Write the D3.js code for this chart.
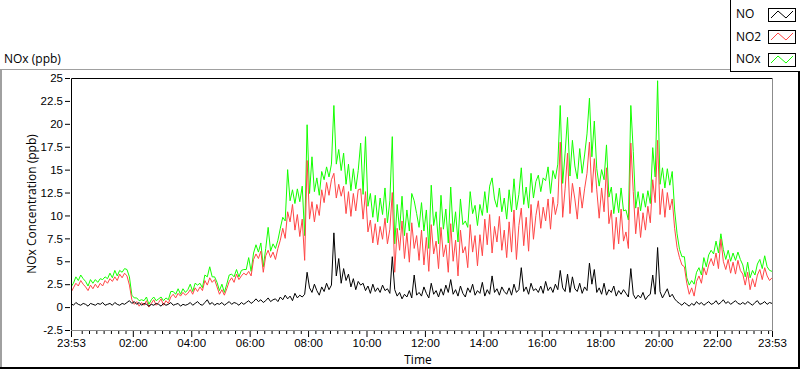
<!DOCTYPE html>
<html>
<head>
<meta charset="utf-8">
<script src="https://cdn.jsdelivr.net/npm/d3@7"></script>
<style>
  body { margin: 0; background: #fff; }
  svg { display: block; font-family: "Open Sans", sans-serif; }
  .tick text { font-size: 11.5px; fill: #000; }
  .tick line { stroke: #000; }
</style>
</head>
<body>
<div id="chart"></div>
<script>
// series, one sample every 5 min from 23:53 to 23:53 next day
const seriesNames = ["NO", "NO2", "NOx"];
const sampleMinutes = 5;

const noValues = [
  0.4,0.2,0.5,0.3,0.2,0.4,0.3,0.1,0.4,0.3,0.2,0.4,
  0.3,0.5,0.2,0.3,0.4,0.2,0.5,0.3,0.2,0.4,0.3,0.5,
  0.7,0.4,0.6,0.3,0.5,0.2,0.4,0.3,0.1,0.3,0.2,0.4,
  0.3,0.1,0.4,0.2,0.3,0.5,0.2,0.3,0.4,0.1,0.3,0.2,
  0.3,0.5,0.2,0.4,0.6,0.3,0.2,0.5,0.8,0.3,0.5,0.2,
  0.4,0.3,0.5,0.2,0.4,0.6,0.3,0.5,0.4,0.2,0.5,0.3,
  0.5,0.7,0.4,0.6,0.9,0.6,0.8,0.5,0.7,1.0,0.6,0.8,
  0.9,0.6,1.1,0.8,1.3,0.9,1.2,0.7,1.5,1.0,1.3,1.1,
  1.4,3.8,2.1,1.6,2.5,1.8,1.3,2.2,1.7,2.6,1.9,2.4,
  8.1,3.4,5.3,2.6,4.2,2.9,3.6,2.2,3.1,1.9,2.8,2.4,
  2.6,1.8,2.3,1.5,2.5,1.7,2.1,1.6,2.4,1.8,2.0,1.5,
  5.5,1.9,1.2,1.6,0.9,1.4,1.1,1.8,1.0,3.5,1.3,1.6,
  1.2,2.2,1.5,1.0,2.6,1.4,1.8,1.1,2.0,1.3,2.4,1.6,
  3.0,1.4,1.9,1.2,2.3,1.5,1.1,2.1,1.6,2.5,1.3,1.8,
  1.5,2.7,1.2,1.9,1.4,3.4,1.6,2.0,1.3,2.2,1.7,1.4,
  2.1,1.3,2.5,1.6,1.9,4.3,1.7,2.2,1.4,2.6,1.8,2.0,
  1.6,2.3,1.5,2.8,1.8,2.2,1.6,2.5,1.9,4.0,2.1,1.7,
  3.6,1.6,3.3,2.0,1.7,2.6,1.5,2.2,1.8,4.8,2.5,4.1,
  1.6,2.1,1.4,2.6,1.3,1.9,1.6,2.3,1.2,1.8,1.4,1.9,
  1.5,1.1,4.2,1.4,0.9,1.3,1.0,1.6,0.8,1.2,1.4,3.5,
  1.4,6.5,1.7,1.0,1.5,2.0,1.1,1.4,0.9,0.6,0.4,0.2,
  0.5,0.3,0.1,0.4,0.2,0.6,0.3,0.5,0.2,0.4,0.6,0.3,
  0.4,0.7,0.3,0.5,0.8,0.4,0.6,0.3,0.5,0.7,0.4,0.3,
  0.5,0.3,0.6,0.4,0.2,0.5,0.7,0.3,0.4,0.6,0.3,0.5,
  0.4
];

const no2Values = [
  1.6,2.1,2.6,2.3,2.9,2.5,2.2,1.8,2.4,2.0,2.5,2.1,
  2.6,2.3,2.9,2.6,3.1,2.8,3.3,2.9,3.6,3.2,3.7,3.4,
  2.4,0.8,0.3,0.6,0.1,0.5,0.2,0.7,0.0,0.4,0.8,0.2,
  0.5,0.9,0.2,0.7,0.4,1.1,1.4,1.0,1.5,1.2,1.6,1.3,
  1.5,1.9,1.4,2.1,1.7,2.2,1.8,2.9,2.4,3.2,2.7,3.0,
  2.2,1.4,1.9,1.3,2.0,2.8,3.2,2.7,3.6,3.0,3.4,3.7,
  3.5,3.9,3.4,5.2,5.8,5.3,6.1,3.8,5.6,6.2,5.4,6.0,
  5.2,6.4,7.3,8.6,7.5,10.4,9.3,11.2,8.4,10.1,7.7,9.6,
  5.1,16.0,9.6,11.5,9.3,11.2,10.0,12.8,11.4,13.6,12.2,13.9,
  14.6,11.9,13.4,12.1,13.2,10.2,12.6,9.9,12.4,10.5,12.8,12.9,
  9.6,12.6,8.2,9.5,7.0,9.1,6.8,8.8,7.4,9.7,6.9,8.5,
  12.5,3.8,8.6,6.2,9.4,5.3,8.1,4.9,9.2,6.4,7.8,5.1,
  8.4,4.6,7.6,3.9,9.0,5.8,7.2,4.2,8.7,5.5,6.8,3.8,
  9.1,5.0,7.3,3.4,8.4,5.9,6.6,4.3,9.0,6.0,7.8,4.5,
  7.9,5.6,9.6,6.8,10.1,5.9,8.8,7.1,9.9,6.2,8.4,5.4,
  9.3,6.0,10.6,5.2,8.9,10.8,6.7,9.8,6.1,11.2,7.4,10.0,
  11.6,8.6,10.9,9.4,11.8,8.5,12.0,10.1,11.3,18.0,9.8,12.9,
  16.8,10.2,13.5,11.8,9.6,13.1,10.8,12.9,14.6,18.0,12.5,16.2,
  12.8,9.7,13.0,10.4,15.2,9.1,10.6,6.3,9.8,6.9,10.7,7.2,
  8.2,6.4,17.9,12.6,8.0,10.9,7.6,10.3,8.4,11.0,9.2,13.9,
  11.4,18.2,10.1,12.9,9.8,12.5,10.6,11.8,8.6,6.5,5.4,4.6,
  4.4,2.6,1.4,2.1,1.2,2.8,3.4,2.6,4.3,3.5,4.6,5.3,
  4.5,5.9,4.2,7.4,5.0,4.1,5.2,3.7,4.9,3.6,5.1,4.0,
  3.6,2.4,3.8,1.9,3.1,2.2,3.5,4.1,3.0,4.3,3.4,2.9,
  3.2
];

const noxValues = [
  2.2,2.6,3.3,2.9,3.5,3.1,2.8,2.3,3.0,2.6,3.0,2.7,
  3.1,3.0,3.3,3.1,3.7,3.2,4.0,3.4,4.0,3.8,4.2,4.1,
  3.3,1.3,1.0,1.0,0.7,0.8,0.7,1.1,0.3,0.8,1.1,0.7,
  0.9,1.1,0.7,1.0,0.8,1.7,1.7,1.4,2.0,1.4,2.0,1.6,
  1.9,2.5,1.7,2.6,2.4,2.6,2.1,3.5,3.3,4.4,3.3,3.3,
  2.7,1.8,2.5,1.6,2.5,3.5,3.6,3.3,4.1,3.3,4.0,4.1,
  4.1,5.4,3.9,5.9,6.8,6.0,7.0,4.4,6.4,8.7,6.1,6.9,
  6.4,7.3,8.6,9.8,9.4,15.0,11.6,12.8,11.3,12.9,11.5,13.2,
  7.8,19.9,12.4,16.4,12.6,14.1,12.2,14.8,13.9,15.3,14.2,15.6,
  22.0,15.6,17.2,14.9,16.8,13.4,15.6,12.7,15.1,12.9,14.9,17.9,
  12.3,18.6,11.0,12.4,9.8,12.2,9.3,11.9,10.1,13.0,9.2,11.6,
  18.6,6.9,11.2,8.4,12.1,7.8,10.6,8.3,12.4,11.6,10.2,8.7,
  11.4,8.3,10.6,6.4,13.3,8.9,10.4,6.9,12.2,8.5,10.7,7.0,
  13.1,8.2,10.4,7.1,11.8,9.0,9.4,8.7,12.6,10.2,11.1,8.9,
  11.2,10.0,12.6,10.3,13.2,14.1,11.8,10.9,13.0,10.4,11.9,9.6,
  12.8,10.4,14.0,10.6,12.3,15.2,11.2,13.1,10.8,14.6,11.9,13.7,
  14.4,12.6,14.1,13.8,15.3,12.4,14.9,14.0,15.6,22.0,13.5,16.8,
  20.7,14.3,18.2,15.4,14.0,17.3,14.6,16.6,18.9,22.8,16.4,20.3,
  15.1,13.2,15.0,13.9,17.7,12.0,13.1,10.2,12.4,10.3,13.0,10.5,
  10.6,9.5,22.0,17.0,10.8,12.6,10.5,12.4,10.9,12.7,11.3,17.4,
  14.2,24.7,13.4,15.2,13.0,15.1,13.3,14.8,10.6,8.0,6.3,5.5,
  5.5,3.2,2.4,2.9,2.5,3.8,4.3,3.5,5.4,4.4,5.7,6.2,
  5.8,7.2,5.9,8.0,6.3,5.2,6.2,5.0,5.9,5.1,6.0,5.2,
  4.6,3.3,4.9,3.2,4.0,3.5,4.7,5.2,4.2,5.6,4.4,4.0,
  3.9
];

const yTickValues = [-2.5, 0, 2.5, 5, 7.5, 10, 12.5, 15, 17.5, 20, 22.5, 25];
const xTickHours = [2, 4, 6, 8, 10, 12, 14, 16, 18, 20, 22];

class NOxGraph {
  constructor(_config) {
    this.config = {
      parentElement: _config.parentElement,
      containerWidth: _config.containerWidth || 800,
      containerHeight: _config.containerHeight || 369,
      margin: { top: 78, bottom: 39, right: 28, left: 71 },
    };
    this.colors = { NO: "#000000", NO2: "#ff4646", NOx: "#14ff00" };
    this.initVis();
  }

  initVis() {
    const vis = this;
    const m = vis.config.margin;
    vis.width = vis.config.containerWidth - m.left - m.right;
    vis.height = vis.config.containerHeight - m.top - m.bottom;

    vis.svg = d3.select(vis.config.parentElement)
      .append("svg")
      .attr("width", vis.config.containerWidth)
      .attr("height", vis.config.containerHeight);

    vis.startTime = new Date(2021, 0, 1, 23, 53);
    vis.endTime = d3.timeMinute.offset(vis.startTime, (noValues.length - 1) * sampleMinutes);

    vis.xScale = d3.scaleTime()
      .domain([vis.startTime, vis.endTime])
      .range([m.left, m.left + vis.width]);
    vis.yScale = d3.scaleLinear()
      .domain([-2.5, 25])
      .range([m.top + vis.height, m.top]);

    vis.data = noValues.map((no, i) => ({
      time: d3.timeMinute.offset(vis.startTime, i * sampleMinutes),
      NO: no,
      NO2: no2Values[i],
      NOx: noxValues[i],
    }));

    vis.svg.append("clipPath").attr("id", "plot-clip")
      .append("rect")
      .attr("x", m.left + 1).attr("y", m.top + 1)
      .attr("width", vis.width - 1).attr("height", vis.height - 1);

    this.updateVis();
  }

  updateVis() {
    const vis = this;
    vis.renderFrame();
    vis.renderAxes();
    vis.renderLines();
    vis.renderLabels();
    vis.renderLegend();
  }

  renderFrame() {
    const vis = this;
    const m = vis.config.margin;
    const W = vis.config.containerWidth;
    const H = vis.config.containerHeight;

    // outer panel (sunken look)
    vis.svg.append("rect").attr("x", 0).attr("y", 69).attr("width", W).attr("height", 1).attr("fill", "#a0a0a0");
    vis.svg.append("rect").attr("x", 0).attr("y", 69).attr("width", 2).attr("height", H - 69).attr("fill", "#a0a0a0");
    vis.svg.append("rect").attr("x", W - 2).attr("y", 69).attr("width", 2).attr("height", H - 69).attr("fill", "#000");
    vis.svg.append("rect").attr("x", 0).attr("y", H - 2).attr("width", W).attr("height", 2).attr("fill", "#000");

    // plot area border
    const x0 = m.left + 0.5, x1 = m.left + vis.width + 0.5;
    const y0 = m.top + 0.5, y1 = m.top + vis.height + 0.5;
    vis.svg.append("line").attr("x1", x0).attr("x2", x1).attr("y1", y0).attr("y2", y0).attr("stroke", "#000");
    vis.svg.append("line").attr("x1", x0).attr("x2", x0).attr("y1", y0).attr("y2", y1).attr("stroke", "#000");
    vis.svg.append("line").attr("x1", x1).attr("x2", x1).attr("y1", y0).attr("y2", y1).attr("stroke", "#8c8c8c");
    vis.svg.append("line").attr("x1", x0).attr("x2", x1).attr("y1", y1).attr("y2", y1).attr("stroke", "#8c8c8c");
  }

  renderAxes() {
    const vis = this;
    const m = vis.config.margin;

    const yAxis = d3.axisLeft(vis.yScale)
      .tickValues(yTickValues)
      .tickSize(5)
      .tickPadding(2)
      .tickFormat((d) => String(d));
    vis.svg.append("g")
      .attr("transform", `translate(${m.left - 1},0)`)
      .call(yAxis)
      .call((g) => g.select(".domain").remove());

    const majorTicks = [vis.startTime]
      .concat(xTickHours.map((h) => new Date(2021, 0, 2, h, 0)))
      .concat([vis.endTime]);
    const minorTicks = d3.timeMinute.every(15)
      .range(vis.startTime, vis.endTime)
      .filter((t) => t.getMinutes() !== 0 || t.getHours() % 2 !== 0);

    const axisY = m.top + vis.height + 1;

    vis.svg.append("g")
      .attr("transform", `translate(0,${axisY})`)
      .call(d3.axisBottom(vis.xScale).tickValues(minorTicks).tickSize(3).tickFormat(""))
      .call((g) => g.select(".domain").remove());

    vis.svg.append("g")
      .attr("transform", `translate(0,${axisY})`)
      .call(d3.axisBottom(vis.xScale)
        .tickValues(majorTicks)
        .tickSize(6)
        .tickPadding(2)
        .tickFormat(d3.timeFormat("%H:%M")))
      .call((g) => g.select(".domain").remove());
  }

  renderLines() {
    const vis = this;
    const plot = vis.svg.append("g").attr("clip-path", "url(#plot-clip)");

    // NOx underneath, then NO2, NO on top
    ["NOx", "NO2", "NO"].forEach((key) => {
      const line = d3.line()
        .x((d) => vis.xScale(d.time))
        .y((d) => vis.yScale(d[key]));
      plot.append("path")
        .datum(vis.data)
        .attr("fill", "none")
        .attr("stroke", vis.colors[key])
        .attr("stroke-width", 1)
        .attr("stroke-linejoin", "miter")
        .attr("d", line);
    });
  }

  renderLabels() {
    const vis = this;
    const m = vis.config.margin;

    vis.svg.append("text")
      .attr("x", 4).attr("y", 63)
      .style("font-size", "12px")
      .text("NOx (ppb)");

    vis.svg.append("text")
      .attr("transform", `translate(36,${m.top + vis.height / 2}) rotate(-90)`)
      .style("text-anchor", "middle")
      .style("font-size", "12px")
      .text("NOx Concentration (ppb)");

    vis.svg.append("text")
      .attr("x", 418).attr("y", 364)
      .style("text-anchor", "middle")
      .style("font-size", "12px")
      .text("Time");
  }

  renderLegend() {
    const vis = this;
    const lg = vis.svg.append("g");

    lg.append("rect")
      .attr("x", 730.5).attr("y", -1)
      .attr("width", 70).attr("height", 72.5)
      .attr("fill", "#fff").attr("stroke", "#000");

    seriesNames.forEach((name, i) => {
      const cy = 14 + i * 22.5;
      lg.append("text")
        .attr("x", 736).attr("y", cy + 4)
        .style("font-size", "12px")
        .text(name);
      const bx = 768, by = Math.round(cy - 6.5);
      lg.append("rect")
        .attr("x", bx + 0.5).attr("y", by + 0.5)
        .attr("width", 27).attr("height", 13)
        .attr("fill", "#fff").attr("stroke", "#000");
      const pts = [[bx + 3, by + 10], [bx + 10, by + 3], [bx + 18, by + 10], [bx + 25, by + 3]];
      lg.append("path")
        .attr("d", d3.line()(pts))
        .attr("fill", "none")
        .attr("stroke", vis.colors[name]);
    });
  }
}

new NOxGraph({ parentElement: "#chart" });
</script>
</body>
</html>
